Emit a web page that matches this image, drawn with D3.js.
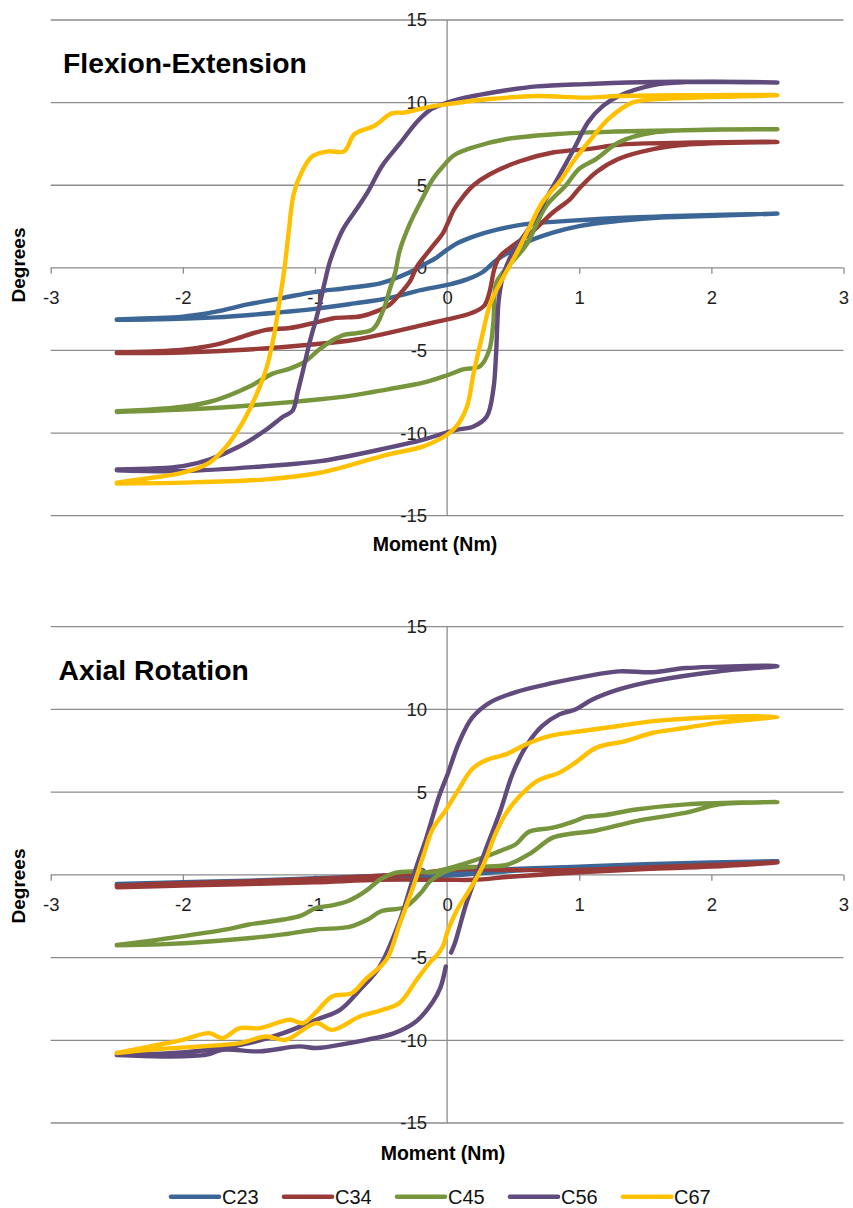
<!DOCTYPE html>
<html>
<head>
<meta charset="utf-8">
<script src="https://cdn.jsdelivr.net/npm/d3@7"></script>
<style>
  html, body { margin: 0; padding: 0; background: #ffffff; }
  svg { display: block; }
  text { font-family: "Liberation Sans", Arial, sans-serif; }
</style>
</head>
<body>
<div id="chart"></div>
<script>
// ---------- DATA ----------
const seriesNames = ["C23", "C34", "C45", "C56", "C67"];
const seriesColors = ["#3c6696", "#983a37", "#77953d", "#614a7c", "#ffc000"];
const xTicks = [-3, -2, -1, 0, 1, 2, 3];
const yTicks = [-15, -10, -5, 0, 5, 10, 15];
const chartTitles = ["Flexion-Extension", "Axial Rotation"];
const xAxisTitle = "Moment (Nm)";
const yAxisTitle = "Degrees";

// Flexion-Extension loops: [moment, degrees]; null = break in line
const feC23 = [[-2.5,-3.12],[-2.25,-3.05],[-2.0,-2.95],[-1.75,-2.65],[-1.5,-2.2],[-1.25,-1.83],[-1.0,-1.45],[-0.75,-1.22],[-0.5,-0.92],[-0.35,-0.5],[-0.25,-0.15],[-0.17,0.22],[-0.08,0.62],[0.0,1.1],[0.08,1.5],[0.22,1.95],[0.37,2.3],[0.58,2.63],[0.83,2.8],[1.3,3.02],[1.8,3.16],[2.5,3.28],
  [2.06,3.16],[1.56,3.02],[1.3,2.84],[1.0,2.53],[0.8,2.13],[0.6,1.55],[0.47,0.95],[0.37,0.45],[0.27,-0.25],[0.15,-0.7],[0.02,-1.0],[-0.2,-1.35],[-0.45,-1.85],[-0.7,-2.15],[-1.0,-2.48],[-1.25,-2.68],[-1.75,-3.0],[-2.2,-3.12],[-2.5,-3.15]];
const feC34 = [[-2.5,-5.12],[-2.0,-4.95],[-1.75,-4.65],[-1.62,-4.35],[-1.37,-3.75],[-1.19,-3.64],[-0.99,-3.3],[-0.86,-3.05],[-0.65,-2.93],[-0.54,-2.65],[-0.43,-2.2],[-0.36,-1.6],[-0.28,-0.8],[-0.23,0.05],[-0.18,0.6],[-0.11,1.3],[-0.03,2.12],[0.01,2.8],[0.05,3.5],[0.12,4.3],[0.2,5.0],[0.32,5.65],[0.55,6.45],[0.8,6.98],[1.08,7.2],[1.3,7.45],[1.8,7.58],[2.5,7.62],
  [1.8,7.45],[1.56,7.18],[1.3,6.6],[1.13,5.8],[1.0,4.8],[0.93,4.15],[0.8,3.35],[0.64,2.15],[0.49,1.3],[0.4,0.7],[0.36,0.0],[0.32,-1.5],[0.28,-2.3],[0.18,-2.75],[0.0,-3.12],[-0.18,-3.45],[-0.45,-3.95],[-0.7,-4.35],[-1.0,-4.62],[-1.5,-4.94],[-2.0,-5.12],[-2.5,-5.15]];
const feC45 = [[-2.5,-8.68],[-2.0,-8.4],[-1.75,-8.0],[-1.5,-7.2],[-1.32,-6.4],[-1.19,-6.1],[-1.07,-5.65],[-0.97,-4.95],[-0.86,-4.35],[-0.78,-4.05],[-0.68,-3.95],[-0.56,-3.7],[-0.48,-2.5],[-0.43,-1.2],[-0.39,-0.2],[-0.36,1.0],[-0.28,2.7],[-0.18,4.3],[-0.11,5.35],[-0.03,6.15],[0.05,6.8],[0.2,7.3],[0.45,7.8],[0.83,8.1],[1.08,8.2],[1.8,8.33],[2.5,8.39],
  [1.56,8.19],[1.3,7.6],[1.13,6.6],[1.0,6.0],[0.9,5.0],[0.75,3.75],[0.6,1.4],[0.49,0.35],[0.42,-0.3],[0.37,-0.95],[0.35,-3.3],[0.32,-4.95],[0.25,-5.95],[0.12,-6.15],[0.0,-6.5],[-0.18,-6.95],[-0.45,-7.35],[-0.7,-7.7],[-0.96,-7.95],[-1.37,-8.25],[-2.0,-8.58],[-2.5,-8.72]];
const feC56 = [[-2.5,-12.2],[-2.0,-12.0],[-1.8,-11.6],[-1.57,-10.8],[-1.37,-9.8],[-1.24,-9.0],[-1.17,-8.65],[-1.13,-7.5],[-1.09,-6.2],[-1.04,-4.5],[-0.98,-2.75],[-0.93,-1.0],[-0.89,0.3],[-0.85,1.2],[-0.79,2.3],[-0.69,3.5],[-0.6,4.6],[-0.49,6.2],[-0.36,7.5],[-0.22,8.9],[-0.12,9.6],[0.0,10.0],[0.2,10.4],[0.45,10.75],[0.68,10.98],[1.05,11.12],[1.56,11.25],[2.5,11.22],
  [1.81,11.24],[1.56,11.06],[1.3,10.4],[1.18,9.8],[1.07,8.85],[0.96,7.2],[0.85,5.6],[0.75,4.2],[0.62,2.4],[0.49,0.85],[0.42,-0.6],[0.39,-2.0],[0.38,-3.4],[0.37,-5.3],[0.35,-7.35],[0.3,-9.0],[0.2,-9.6],[0.07,-9.8],[0.0,-9.95],[-0.18,-10.4],[-0.45,-10.9],[-0.96,-11.7],[-1.37,-12.0],[-2.0,-12.3],[-2.5,-12.25]];
const feC67 = [[-2.5,-13.0],[-2.25,-12.72],[-2.0,-12.4],[-1.8,-11.8],[-1.67,-10.8],[-1.55,-9.4],[-1.45,-7.8],[-1.37,-6.15],[-1.31,-4.1],[-1.27,-2.1],[-1.23,0.0],[-1.2,2.1],[-1.16,4.5],[-1.1,5.8],[-1.02,6.75],[-0.9,7.05],[-0.78,7.05],[-0.7,8.1],[-0.55,8.6],[-0.42,9.35],[-0.32,9.4],[-0.16,9.7],[0.0,9.9],[0.3,10.2],[0.68,10.4],[1.05,10.3],[1.3,10.4],[1.8,10.45],[2.5,10.45],
  [1.56,10.2],[1.4,10.0],[1.22,9.0],[1.09,7.8],[0.97,6.6],[0.85,5.2],[0.72,3.95],[0.62,2.4],[0.52,0.8],[0.43,-0.5],[0.33,-2.1],[0.26,-4.3],[0.2,-6.4],[0.15,-8.4],[0.07,-9.6],[0.0,-10.1],[-0.18,-10.8],[-0.45,-11.3],[-0.96,-12.4],[-1.37,-12.8],[-2.0,-13.0],[-2.5,-13.05]];

// Axial Rotation loops
const arC23 = [[-2.5,-0.55],[-2.0,-0.45],[-1.5,-0.35],[-1.0,-0.2],[-0.5,-0.05],[0.0,0.15],[0.5,0.35],[1.0,0.5],[1.5,0.65],[2.0,0.75],[2.5,0.83],
  [2.0,0.7],[1.5,0.55],[1.0,0.45],[0.5,0.25],[0.0,-0.05],[-0.5,-0.2],[-1.0,-0.35],[-1.5,-0.45],[-2.0,-0.55],[-2.5,-0.6]];
const arC34 = [[-2.5,-0.65],[-2.0,-0.5],[-1.5,-0.4],[-1.0,-0.25],[-0.5,-0.05],[-0.2,0.1],[0.0,0.3],[0.2,0.35],[0.5,0.3],[1.0,0.3],[1.5,0.45],[2.0,0.6],[2.5,0.75],
  [2.0,0.5],[1.5,0.35],[1.0,0.15],[0.5,-0.1],[0.2,-0.3],[0.0,-0.3],[-0.5,-0.3],[-1.0,-0.45],[-1.5,-0.55],[-2.0,-0.65],[-2.5,-0.75]];
const arC45 = [[-2.5,-4.24],[-2.17,-3.9],[-1.67,-3.3],[-1.5,-3.0],[-1.24,-2.7],[-1.1,-2.45],[-0.99,-2.0],[-0.87,-1.85],[-0.74,-1.55],[-0.62,-1.0],[-0.5,-0.25],[-0.4,0.1],[-0.26,0.2],[-0.11,0.15],[0.0,0.38],[0.14,0.7],[0.27,1.05],[0.42,1.5],[0.52,1.85],[0.62,2.6],[0.8,2.85],[0.95,3.2],[1.05,3.5],[1.18,3.6],[1.43,3.95],[1.81,4.26],[2.5,4.4],
  [2.06,4.26],[1.81,3.76],[1.43,3.25],[1.11,2.65],[0.95,2.5],[0.8,2.25],[0.62,1.25],[0.45,0.6],[0.24,0.5],[0.07,0.4],[-0.01,0.2],[-0.13,-0.4],[-0.2,-1.1],[-0.32,-1.95],[-0.5,-2.2],[-0.6,-2.7],[-0.74,-3.15],[-0.99,-3.3],[-1.24,-3.6],[-1.75,-4.0],[-2.17,-4.2],[-2.5,-4.26]];
const arC56 = [[-2.5,-10.85],[-2.13,-10.8],[-1.8,-10.57],[-1.5,-10.17],[-1.24,-9.57],[-0.99,-8.76],[-0.81,-8.16],[-0.66,-6.95],[-0.51,-5.54],[-0.36,-2.8],[-0.28,-0.8],[-0.23,0.54],[-0.16,2.16],[-0.06,4.77],[0.0,6.0],[0.09,8.0],[0.19,9.5],[0.32,10.4],[0.52,11.05],[0.8,11.6],[1.05,12.0],[1.3,12.3],[1.56,12.25],[1.81,12.5],[2.5,12.62],
  [2.06,12.31],[1.56,11.71],[1.3,11.21],[1.1,10.6],[0.97,10.0],[0.85,9.7],[0.72,9.0],[0.6,7.8],[0.5,6.2],[0.4,3.8],[0.3,1.7],[0.22,-0.06],[0.14,-1.87],[0.09,-3.28],[0.06,-4.1],[0.03,-4.7],null,[-0.01,-5.54],[-0.05,-6.8],[-0.11,-7.7],[-0.24,-8.9],[-0.41,-9.6],[-0.61,-9.97],[-0.74,-10.17],[-0.99,-10.47],[-1.12,-10.37],[-1.42,-10.67],[-1.7,-10.57],[-1.82,-10.87],[-2.13,-10.98],[-2.5,-10.9]];
const arC67 = [[-2.5,-10.77],[-2.25,-10.37],[-2.0,-9.97],[-1.8,-9.57],[-1.7,-9.87],[-1.57,-9.27],[-1.42,-9.27],[-1.19,-8.76],[-1.09,-8.96],[-0.98,-8.2],[-0.87,-7.35],[-0.72,-7.15],[-0.62,-6.34],[-0.46,-5.14],[-0.36,-3.0],[-0.26,-0.8],[-0.18,1.15],[-0.11,2.76],[-0.01,3.9],[0.09,5.2],[0.19,6.4],[0.3,6.95],[0.45,7.3],[0.6,7.9],[0.78,8.4],[0.98,8.65],[1.3,9.0],[1.56,9.29],[1.93,9.5],[2.5,9.56],
  [2.06,9.2],[1.81,8.89],[1.56,8.59],[1.35,8.09],[1.13,7.69],[0.97,6.78],[0.85,6.18],[0.68,5.67],[0.55,4.76],[0.45,3.76],[0.37,2.55],[0.27,0.53],[0.17,-0.9],[0.07,-2.2],[0.0,-3.5],[-0.03,-4.29],[-0.08,-4.89],[-0.12,-5.2],[-0.23,-6.34],[-0.36,-7.75],[-0.49,-8.16],[-0.66,-8.56],[-0.87,-9.37],[-0.99,-8.96],[-1.22,-9.97],[-1.37,-9.77],[-1.57,-10.17],[-1.87,-10.37],[-2.25,-10.57],[-2.5,-10.77]];

const flexionSeries = [feC23, feC34, feC45, feC56, feC67];
const axialSeries = [arC23, arC34, arC45, arC56, arC67];

// ---------- DRAW ----------
const W = 853, H = 1208;
const svg = d3.select("#chart").append("svg").attr("width", W).attr("height", H);
svg.append("rect").attr("width", W).attr("height", H).attr("fill", "#fff");

const x = d3.scaleLinear().domain([-3, 3]).range([50.7, 843.5]);
const gridColor = "#8c8c8c";

const panels = [
  { title: chartTitles[0], data: flexionSeries, y: d3.scaleLinear().domain([-15, 15]).range([515.7, 20]),
    titleX: 63, titleY: 72.5, xtX: 435, xtY: 551, ytY: 265 },
  { title: chartTitles[1], data: axialSeries, y: d3.scaleLinear().domain([-15, 15]).range([1123, 626.7]),
    titleX: 58.5, titleY: 680, xtX: 443, xtY: 1160, ytY: 886 }
];

panels.forEach(p => {
  const g = svg.append("g");
  const y = p.y;
  // horizontal gridlines
  g.selectAll("line.grid").data(yTicks).enter().append("line")
    .attr("x1", x(-3)).attr("x2", x(3))
    .attr("y1", d => y(d)).attr("y2", d => y(d))
    .attr("stroke", gridColor).attr("stroke-width", 1.3);
  // vertical axis at 0
  g.append("line").attr("x1", x(0)).attr("x2", x(0)).attr("y1", y(15)).attr("y2", y(-15))
    .attr("stroke", gridColor).attr("stroke-width", 1.3);

  // x axis (ticks + labels) positioned at y=0
  const xAxis = d3.axisBottom(x).tickValues(xTicks).tickSize(6).tickPadding(17.5).tickFormat(d => String(d));
  const xa = g.append("g").attr("transform", `translate(0,${y(0)})`).call(xAxis);
  xa.select(".domain").remove();
  xa.selectAll(".tick line").attr("stroke", gridColor).attr("stroke-width", 1.3);
  xa.selectAll(".tick text").attr("font-size", 18.5).attr("fill", "#1e1e1e")
    .attr("font-family", '"Liberation Sans", Arial, sans-serif');

  // y axis labels at x=0
  const yAxis = d3.axisLeft(y).tickValues(yTicks).tickSize(0).tickPadding(20).tickFormat(d => String(d));
  const ya = g.append("g").attr("transform", `translate(${x(0)},0)`).call(yAxis);
  ya.select(".domain").remove();
  ya.selectAll(".tick text").attr("font-size", 18.5).attr("fill", "#1e1e1e")
    .attr("font-family", '"Liberation Sans", Arial, sans-serif');

  // series
  const line = d3.line().defined(d => d !== null)
    .x(d => x(d[0])).y(d => y(d[1]))
    .curve(d3.curveCatmullRom.alpha(0.5));
  p.data.forEach((s, i) => {
    g.append("path").attr("d", line(s))
      .attr("fill", "none").attr("stroke", seriesColors[i])
      .attr("stroke-width", 4.4).attr("stroke-linejoin", "round").attr("stroke-linecap", "round");
  });

  // titles
  g.append("text").attr("x", p.titleX).attr("y", p.titleY).text(p.title)
    .attr("font-size", 28.3).attr("font-weight", "bold").attr("fill", "#000");
  g.append("text").attr("x", p.xtX).attr("y", p.xtY).attr("text-anchor", "middle").text(xAxisTitle)
    .attr("font-size", 19.5).attr("font-weight", "bold").attr("fill", "#000");
  g.append("text").attr("transform", `translate(25,${p.ytY}) rotate(-90)`).attr("text-anchor", "middle")
    .text(yAxisTitle).attr("font-size", 19).attr("font-weight", "bold").attr("fill", "#000");
});

// legend
const legendY = 1196.7;
const legend = svg.append("g");
seriesNames.forEach((name, i) => {
  const lx = 171 + i * 113;
  legend.append("line").attr("x1", lx).attr("x2", lx + 48).attr("y1", legendY).attr("y2", legendY)
    .attr("stroke", seriesColors[i]).attr("stroke-width", 4.6).attr("stroke-linecap", "round");
  legend.append("text").attr("x", lx + 51).attr("y", legendY + 7).text(name)
    .attr("font-size", 20).attr("fill", "#111");
});
</script>
</body>
</html>
